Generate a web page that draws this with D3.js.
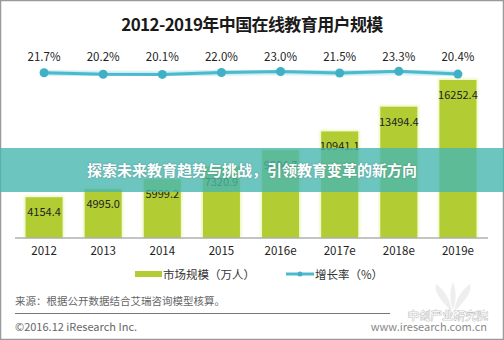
<!DOCTYPE html>
<html>
<head>
<meta charset="utf-8">
<script src="https://cdn.jsdelivr.net/npm/d3@7/dist/d3.min.js"></script>
<style>
  html, body { margin: 0; padding: 0; background: #fff; }
  svg { display: block; font-family: "Noto Sans CJK SC", "Noto Sans", sans-serif; }
</style>
</head>
<body>
<svg id="chart" width="504" height="340"></svg>
<script>
// 中国在线教育用户规模（万人）及增长率
const years = ["2012", "2013", "2014", "2015", "2016e", "2017e", "2018e", "2019e"];
const users = [4154.4, 4995.0, 5999.2, 7320.9, 9004.7, 10941.1, 13494.4, 16252.4];
const growth = [21.7, 20.2, 20.1, 22.0, 23.0, 21.5, 23.3, 20.4];

const title = "2012-2019年中国在线教育用户规模";
const legendLabels = ["市场规模（万人）", "增长率（%）"];
const sourceText = "来源：根据公开数据结合艾瑞咨询模型核算。";
const copyrightText = "©2016.12 iResearch Inc.";
const siteText = "www.iresearch.com.cn";
const brandText = "中创产业研究院";
const bannerText = "探索未来教育趋势与挑战，引领教育变革的新方向";

const W = 504, H = 340;
const svg = d3.select("#chart");

const barColor = "#b2cd34";
const lineColor = "#4cbacd";
const textColor = "#222";

// frame
svg.append("rect")
  .attr("x", 0.5).attr("y", 0.5)
  .attr("width", W - 1).attr("height", H - 1)
  .attr("fill", "#fff").attr("stroke", "#9a9a9a").attr("stroke-width", 1.5);

// title
svg.append("text")
  .attr("x", 252).attr("y", 31)
  .attr("text-anchor", "middle")
  .attr("font-size", 17).attr("font-weight", 700)
  .attr("letter-spacing", -0.6)
  .attr("fill", "#1a1a1a")
  .text(title);

// scales
const x = d3.scaleBand().domain(years).range([14.5, 487.5]).paddingInner(0.374).paddingOuter(0.187);
const y = d3.scaleLinear().domain([0, 16252.4]).range([237.5, 80]);
const yLine = d3.scaleLinear().domain([20, 24]).range([74.5, 70.5]);
const cx = d => x(d) + x.bandwidth() / 2;

// soft edge used for halos
const glow = svg.append("defs").append("filter").attr("id", "soft")
  .attr("x", "-20%").attr("y", "-20%").attr("width", "140%").attr("height", "140%");
glow.append("feGaussianBlur").attr("stdDeviation", 1.2);

// bars
svg.append("g").selectAll("rect.halo")
  .data(years)
  .join("rect")
  .attr("x", d => x(d) - 1.5)
  .attr("y", (d, i) => y(users[i]) - 1.5)
  .attr("width", x.bandwidth() + 3)
  .attr("height", (d, i) => y(0) - y(users[i]) + 1.5)
  .attr("fill", "#eef6bf")
  .attr("filter", "url(#soft)");

svg.append("g").selectAll("rect.bar")
  .data(years)
  .join("rect")
  .attr("x", d => x(d))
  .attr("y", (d, i) => y(users[i]))
  .attr("width", x.bandwidth())
  .attr("height", (d, i) => y(0) - y(users[i]))
  .attr("fill", barColor);

// bar value labels
svg.append("g").selectAll("text")
  .data(years)
  .join("text")
  .attr("x", d => cx(d))
  .attr("y", (d, i) => y(users[i]) + 19)
  .attr("text-anchor", "middle")
  .attr("font-size", 11)
  .attr("fill", textColor)
  .text((d, i) => users[i].toFixed(1));

// x axis
const xAxis = d3.axisBottom(x).tickSize(0).tickPadding(9);
const gx = svg.append("g").attr("transform", `translate(0,${y(0)})`).call(xAxis);
gx.select(".domain").attr("stroke", "#8a8a8a").attr("stroke-width", 1.2);
gx.selectAll("text")
  .attr("font-size", 11.5)
  .attr("fill", textColor)
  .attr("font-family", "'Noto Sans CJK SC', 'Noto Sans', sans-serif");

// growth line
const line = d3.line().x((d, i) => cx(years[i])).y(d => yLine(d));
svg.append("path")
  .datum(growth)
  .attr("d", line)
  .attr("fill", "none")
  .attr("stroke", "#bfe8ef")
  .attr("stroke-width", 6)
  .attr("filter", "url(#soft)");
svg.append("path")
  .datum(growth)
  .attr("d", line)
  .attr("fill", "none")
  .attr("stroke", lineColor)
  .attr("stroke-width", 3);
svg.append("g").selectAll("circle")
  .data(growth)
  .join("circle")
  .attr("cx", (d, i) => cx(years[i]))
  .attr("cy", d => yLine(d))
  .attr("r", 4.5)
  .attr("fill", "#3fb0c6");

// growth labels
svg.append("g").selectAll("text")
  .data(growth)
  .join("text")
  .attr("x", (d, i) => cx(years[i]))
  .attr("y", 61)
  .attr("text-anchor", "middle")
  .attr("font-size", 11.5)
  .attr("fill", textColor)
  .text(d => d.toFixed(1) + "%");

// legend
const lg = svg.append("g");
lg.append("rect").attr("x", 135).attr("y", 271).attr("width", 27).attr("height", 6).attr("fill", barColor);
lg.append("text").attr("x", 163).attr("y", 278.5).attr("font-size", 11.5).attr("fill", "#333").text(legendLabels[0]);
lg.append("line").attr("x1", 286).attr("x2", 314).attr("y1", 274).attr("y2", 274)
  .attr("stroke", lineColor).attr("stroke-width", 3);
lg.append("circle").attr("cx", 300).attr("cy", 274).attr("r", 2.5).attr("fill", "#3fb0c6");
lg.append("text").attr("x", 315).attr("y", 278.5).attr("font-size", 11.5).attr("fill", "#333").text(legendLabels[1]);

// watermark leaf
const wm = svg.append("g").attr("opacity", 0.12).attr("fill", "#777");
wm.append("path").attr("d", "M452,312 C440,300 434,292 436,284 C444,290 450,298 452,312 Z");
wm.append("path").attr("d", "M454,312 C466,300 472,292 470,284 C462,290 456,298 454,312 Z");
wm.append("path").attr("d", "M453,310 C449,298 450,290 453,282 C456,290 457,298 453,310 Z");

// footer
svg.append("text").attr("x", 15).attr("y", 304.5).attr("font-size", 10.5).attr("fill", "#666").text(sourceText);
svg.append("line").attr("x1", 15).attr("x2", 390).attr("y1", 313.5).attr("y2", 313.5)
  .attr("stroke", "#777").attr("stroke-width", 1);
svg.append("text").attr("x", 15).attr("y", 330.5).attr("font-size", 11).attr("fill", "#666").text(copyrightText);
svg.append("text").attr("x", 487).attr("y", 331).attr("text-anchor", "end")
  .attr("font-size", 11).attr("fill", "#888").text(siteText);
svg.append("text").attr("x", 488).attr("y", 319.5).attr("text-anchor", "end")
  .attr("font-size", 11.5).attr("fill", "#fff").attr("stroke", "#999").attr("stroke-width", 0.6)
  .attr("paint-order", "stroke").text(brandText);

// banner
svg.append("rect").attr("x", 0).attr("y", 148).attr("width", W).attr("height", 44)
  .attr("fill", "rgb(72,182,176)").attr("opacity", 0.8);
svg.append("text").attr("x", 252).attr("y", 175.5)
  .attr("text-anchor", "middle")
  .attr("font-size", 15).attr("font-weight", 700)
  .attr("fill", "#fff")
  .attr("style", "text-shadow: 0 0 2px rgba(0,0,0,0.25)")
  .text(bannerText);
</script>
</body>
</html>
